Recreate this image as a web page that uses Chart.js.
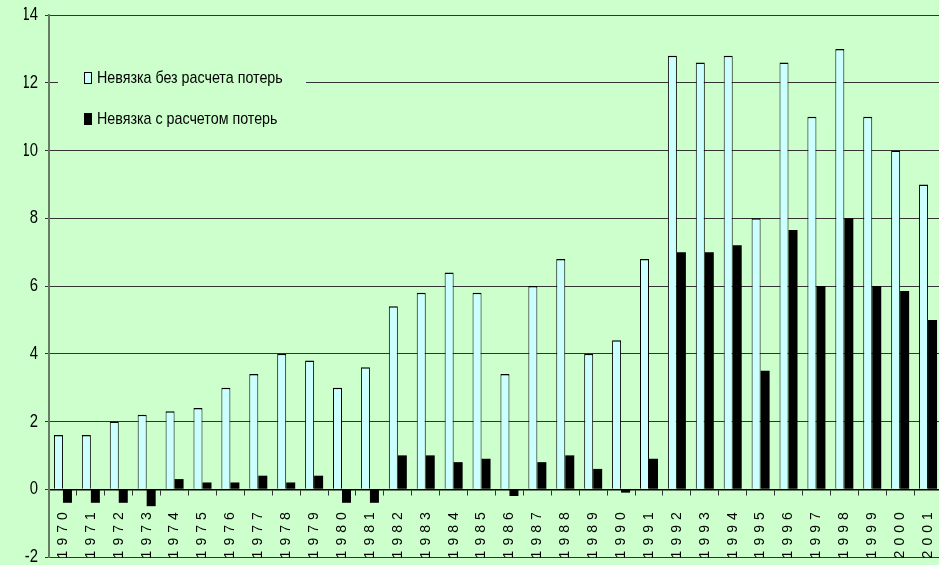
<!DOCTYPE html>
<html>
<head>
<meta charset="utf-8">
<script src="https://cdn.jsdelivr.net/npm/chart.js@4/dist/chart.umd.min.js"></script>
<style>
  html, body { margin: 0; padding: 0; background: #CCFFCC; overflow: hidden; }
  #wrap { width: 950px; height: 565px; }
</style>
</head>
<body>
<div id="wrap"><canvas id="c" width="950" height="565"></canvas></div>
<script>
// Годы наблюдений
const years = ['1970','1971','1972','1973','1974','1975','1976','1977','1978','1979',
               '1980','1981','1982','1983','1984','1985','1986','1987','1988','1989',
               '1990','1991','1992','1993','1994','1995','1996','1997','1998','1999',
               '2000','2001'];

// Невязка без расчета потерь
const gapNoLosses = [1.6, 1.6, 2.0, 2.2, 2.3, 2.4, 3.0, 3.4, 4.0, 3.8,
                     3.0, 3.6, 5.4, 5.8, 6.4, 5.8, 3.4, 6.0, 6.8, 4.0,
                     4.4, 6.8, 12.8, 12.6, 12.8, 8.0, 12.6, 11.0, 13.0, 11.0,
                     10.0, 9.0];

// Невязка с расчетом потерь
const gapWithLosses = [-0.4, -0.4, -0.4, -0.5, 0.3, 0.2, 0.2, 0.4, 0.2, 0.4,
                       -0.4, -0.4, 1.0, 1.0, 0.8, 0.9, -0.2, 0.8, 1.0, 0.6,
                       -0.1, 0.9, 7.0, 7.0, 7.2, 3.5, 7.65, 6.0, 8.0, 6.0,
                       5.85, 5.0];

const seriesNames = ['Невязка без расчета потерь', 'Невязка с расчетом потерь'];

// Шкала значений
const yMin = -2, yMax = 14, yStep = 2;

const SANS = "'Liberation Sans', Arial, sans-serif";
const BG = '#CCFFCC';
const NARROW_K = 0.78;   // сжатие шрифта по горизонтали (узкое начертание)
const YEAR_SHIFT = 13;   // отступ подписей годов от оси

// Подписи осей: разрядка годов по X и узкие цифры по Y
const axisLabelStyle = {
  id: 'axisLabelStyle',
  afterUpdate(chart) {
    const sx = chart.scales.x;
    if (sx && !sx.__styled) {
      const orig = sx.drawLabels;
      sx.drawLabels = function (area) {
        const ctx = this.ctx;
        ctx.save();
        ctx.translate(0, YEAR_SHIFT);
        ctx.letterSpacing = '5px';
        orig.call(this, area);
        ctx.restore();
      };
      sx.__styled = true;
    }
    const sy = chart.scales.y;
    if (sy && !sy.__styled) {
      const orig = sy.drawLabels;
      sy.drawLabels = function (area) {
        const ctx = this.ctx;
        const ax = this.right - this.options.grid.tickLength - this.options.ticks.padding;
        ctx.save();
        ctx.translate(ax, 0);
        ctx.scale(NARROW_K, 1);
        ctx.translate(-ax, 0);
        orig.call(this, area);
        ctx.restore();
      };
      sy.__styled = true;
    }
  }
};

// Легенда внутри области построения
const innerLegend = {
  id: 'innerLegend',
  afterDraw(chart) {
    const ctx = chart.ctx;
    const a = chart.chartArea;
    const bx = a.left + 9, by = a.top + 43, bw = 248, bh = 76;
    ctx.save();
    ctx.fillStyle = BG;
    ctx.fillRect(bx, by, bw, bh);
    ctx.font = '17px ' + SANS;
    ctx.textBaseline = 'middle';
    chart.data.datasets.forEach((ds, i) => {
      const cy = a.top + 62 + i * 41;
      const mx = a.left + 35;
      ctx.fillStyle = ds.backgroundColor;
      ctx.fillRect(mx, cy - 5, 8, 12);
      if (ds.legendStroke) {
        ctx.strokeStyle = '#000';
        ctx.lineWidth = 1;
        ctx.strokeRect(mx + 0.5, cy - 4.5, 7, 11);
      }
      const tx = mx + 13;
      ctx.save();
      ctx.translate(tx, cy + 1);
      ctx.scale(0.84, 1);
      ctx.fillStyle = '#000';
      ctx.fillText(ds.label, 0, 0);
      ctx.restore();
    });
    ctx.restore();
  }
};

new Chart(document.getElementById('c'), {
  type: 'bar',
  data: {
    labels: years,
    datasets: [
      {
        label: seriesNames[0],
        data: gapNoLosses,
        backgroundColor: '#CCFFFF',
        borderColor: '#000000',
        borderWidth: { top: 1.5, left: 1, right: 1, bottom: 0 },
        borderSkipped: false,
        legendStroke: true,
        categoryPercentage: 0.645,
        barPercentage: 1.0
      },
      {
        label: seriesNames[1],
        data: gapWithLosses,
        backgroundColor: '#000000',
        borderWidth: 0,
        categoryPercentage: 0.645,
        barPercentage: 1.0
      }
    ]
  },
  options: {
    responsive: false,
    animation: false,
    devicePixelRatio: 1,
    layout: { padding: { left: 20, right: 8, top: 15, bottom: 8 } },
    plugins: {
      legend: { display: false },
      tooltip: { enabled: false },
      title: { display: false }
    },
    scales: {
      x: {
        position: { y: 0 },
        offset: true,
        grid: {
          display: true,
          offset: true,
          drawOnChartArea: false,
          drawTicks: true,
          tickLength: 5,
          color: '#333333',
          lineWidth: 1
        },
        border: { display: true, color: '#000000', width: 1.5 },
        ticks: {
          autoSkip: false,
          maxRotation: 90,
          minRotation: 90,
          padding: 0,
          color: '#000000',
          font: { family: SANS, size: 14 }
        }
      },
      y: {
        min: yMin,
        max: yMax,
        afterFit(s) { s.width = 29; },
        ticks: {
          stepSize: yStep,
          padding: 7,
          color: '#000000',
          font: { family: SANS, size: 19, lineHeight: 0.1 }
        },
        grid: {
          color: '#333333',
          lineWidth: 1,
          tickLength: 4
        },
        border: { display: true, color: 'rgb(100,125,100)', width: 2 }
      }
    }
  },
  plugins: [axisLabelStyle, innerLegend]
});
</script>
</body>
</html>
